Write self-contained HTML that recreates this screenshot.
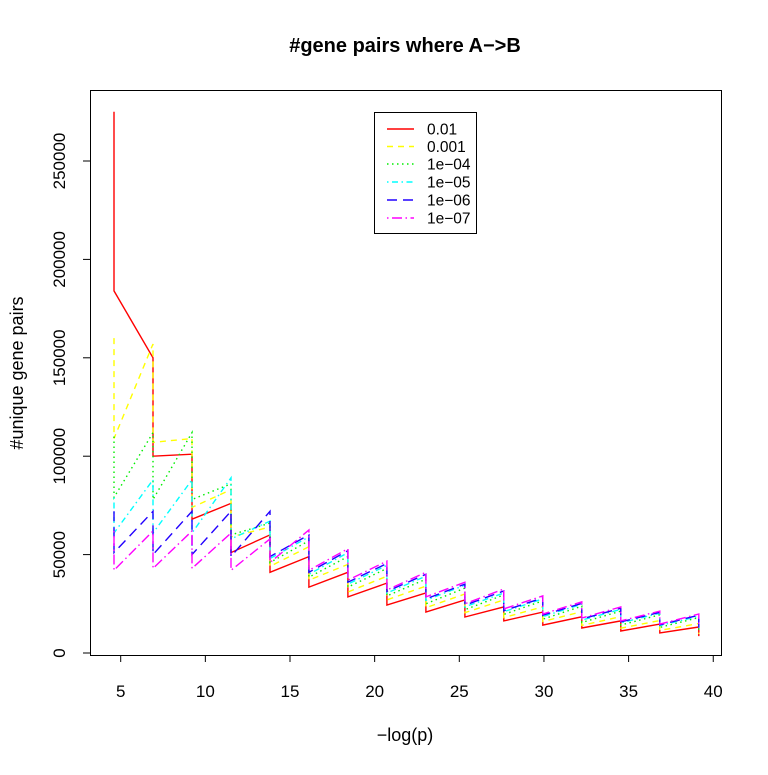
<!DOCTYPE html>
<html><head><meta charset="utf-8">
<style>
html,body{margin:0;padding:0;background:#fff;}
svg text{font-family:"Liberation Sans",Arial,sans-serif;}
</style></head>
<body>
<svg id="chart" width="768" height="770" viewBox="0 0 768 770" xmlns="http://www.w3.org/2000/svg">
<rect x="0" y="0" width="768" height="770" fill="#fff"/>
<text x="405" y="52" text-anchor="middle" font-size="20" font-weight="bold">#gene pairs where A−&gt;B</text>
<rect x="90.5" y="90.5" width="631" height="565" fill="none" stroke="#000" stroke-width="1"/>
<g id="xaxis"></g>
<g id="yaxis"></g>
<g id="series"></g>
<text x="405" y="741" text-anchor="middle" font-size="18">−log(p)</text>
<text transform="translate(23,373) rotate(-90)" text-anchor="middle" font-size="18">#unique gene pairs</text>
<g id="legend">
<rect x="374.5" y="112.5" width="102" height="121" fill="#fff" stroke="#000" stroke-width="1"/>
</g>
</svg>
<script>
const xTicks = [5, 10, 15, 20, 25, 30, 35, 40];
const yTicks = [0, 50000, 100000, 150000, 200000, 250000];
const xPoints = [4.605, 6.908, 9.210, 11.513, 13.816, 16.118, 18.421, 20.723, 23.026, 25.328, 27.631, 29.934, 32.236, 34.539, 36.841, 39.144];
const seriesNames = ["0.01", "0.001", "1e-04", "1e-05", "1e-06", "1e-07"];
const redTops = [275,150,101,76,60,49,41,35.5,30.5,27,23.4,20.8,18.4,16.3,14.7,13.2];
const redLows = [184,100,68,51,41,33.5,28.5,24.4,20.8,18.3,16.3,14.2,12.7,11.2,10.2,8.6];
const yellowTops = [160,157,109,83,64,54,45,39,34,30,27,23.5,21,18.5,16.5,15];
const yellowLows = [109,107,74,59,44,37,31,27,23,20.5,18,16,14,12.6,11.5,9.7];
const greenTops = [110,112,112,86,66,57,49,43,37.5,33,29.5,26.5,23.8,21.3,19.4,18];
const greenLows = [79,78,78,60,46,38.5,33.5,29,25,22,19.6,17.2,15.5,14.2,13,11];
const cyanTops = [79,88,88,89,67,59,51,44.5,39,34.5,30.5,27.5,24.8,22.2,20.2,18.7];
const cyanLows = [61,61,61,58,48,40,35,30.5,26.8,23.5,21,18.5,16.7,15.3,13.9,12];
const blueTops = [72,72,72,72,72,60,52,45.5,40,35,31.5,28,25.2,22.7,20.7,19.2];
const blueLows = [51,50,50,49,49,41,36,31.3,27.5,24.3,21.5,19.2,17.3,15.8,14.3,12.5];
const magentaTops = [62,62,62,61,58,62.5,53,46.7,41,36,32.5,29,26,23.4,21.3,19.8];
const magentaLows = [42,43,43,42,46,42,37,32,28.5,25,22.4,19.8,17.8,16.3,14.7,13];

const NS = "http://www.w3.org/2000/svg";
function X(v){ return 120.7 + (v - 5) * 16.93; }
function Y(v){ return 653 - v * 0.001968; }
function mk(tag, attrs, parent){ const e=document.createElementNS(NS,tag); for(const k in attrs) e.setAttribute(k,attrs[k]); parent.appendChild(e); return e; }

const xa = document.getElementById('xaxis');
xTicks.forEach(t=>{
  const l = mk('line',{x1:X(t),x2:X(t),y1:655,y2:662,stroke:'#000'},xa);
  
  
  const tx = mk('text',{x:X(t),y:697,'text-anchor':'middle','font-size':17},xa);
  
  
  tx.textContent = t;
});
const ya = document.getElementById('yaxis');
yTicks.forEach(t=>{
  const l = mk('line',{x1:83,x2:90.5,y1:Y(t),y2:Y(t),stroke:'#000'},ya);
  
  
  const tx = mk('text',{transform:`translate(65,${Y(t)}) rotate(-90)`,'text-anchor':'middle','font-size':17},ya);
  
  
  tx.textContent = t;
});

const styles = [
  {c:'#ff0000', d:'', tops:redTops, lows:redLows},
  {c:'#ffff00', d:'6,5', tops:yellowTops, lows:yellowLows},
  {c:'#00ee00', d:'1.5,3.5', tops:greenTops, lows:greenLows},
  {c:'#00ffff', d:'1.5,3.5,6,3.5', tops:cyanTops, lows:cyanLows},
  {c:'#2200ff', d:'10,6', tops:blueTops, lows:blueLows},
  {c:'#ff00ff', d:'1.5,3.5,10,3.5', tops:magentaTops, lows:magentaLows}
];
const sg = document.getElementById('series');
styles.forEach((s,i)=>{
  let pts = [];
  xPoints.forEach((x,k)=>{
    pts.push(X(x).toFixed(1)+','+Y(s.tops[k]*1000).toFixed(1));
    pts.push(X(x).toFixed(1)+','+Y(s.lows[k]*1000).toFixed(1));
  });
  const p = mk('polyline',{points:pts.join(' '),fill:'none',stroke:s.c,'stroke-width':1.4,'stroke-dasharray':s.d||'none'},sg);
  
  
});
const lg = document.getElementById('legend');
const ly = [129,146.5,164,182,200,218];
styles.forEach((s,i)=>{
  const l = mk('line',{x1:387,x2:414,y1:ly[i],y2:ly[i],stroke:s.c,'stroke-width':1.4,'stroke-dasharray':s.d||'none'},lg);
  
  
  const t = mk('text',{x:427,y:ly[i]+5.5,'font-size':15.5},lg);
  
  
  t.textContent = seriesNames[i].replace('-','−');
});
</script>
</body></html>
